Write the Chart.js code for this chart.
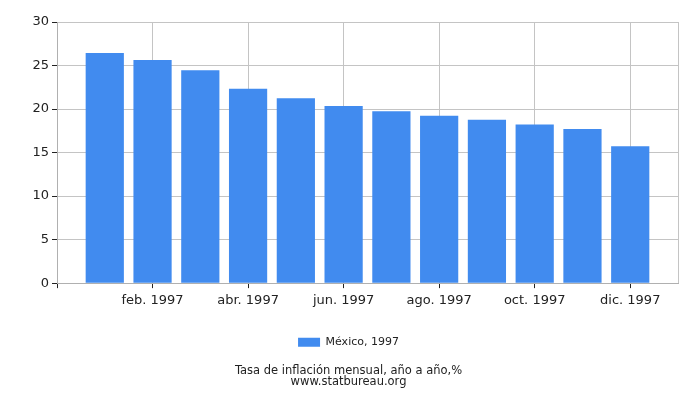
<!DOCTYPE html>
<html>
<head>
<meta charset="utf-8">
<script src="https://cdn.jsdelivr.net/npm/chart.js@4/dist/chart.umd.min.js"></script>
<style>
  html, body { margin: 0; padding: 0; background: #fff; }
  #wrap { width: 700px; height: 400px; }
</style>
</head>
<body>
<div id="wrap"><canvas id="inflChart"></canvas></div>
<script>
const months = ['ene. 1997', 'feb. 1997', 'mar. 1997', 'abr. 1997', 'may. 1997', 'jun. 1997',
                'jul. 1997', 'ago. 1997', 'sep. 1997', 'oct. 1997', 'nov. 1997', 'dic. 1997'];
const inflation = [26.44, 25.64, 24.46, 22.33, 21.24, 20.35, 19.74, 19.22, 18.77, 18.23, 17.71, 15.72];
const shownMonths = ['feb. 1997', 'abr. 1997', 'jun. 1997', 'ago. 1997', 'oct. 1997', 'dic. 1997'];
const yTicks = [0, 5, 10, 15, 20, 25, 30];

// empty slot before january and after december, like the original axis
const labels = [''].concat(months, ['']);
const values = [null].concat(inflation, [null]);

const fontFamily = '"DejaVu Sans", sans-serif';
Chart.defaults.font.family = fontFamily;

function isShown(i) {
    const l = labels[i];
    return i === 0 || shownMonths.includes(l);
}

const ctx = document.getElementById('inflChart').getContext('2d');
let chart = new Chart(ctx, {
    type: 'bar',
    data: {
        labels: labels,
        datasets: [{
            label: 'México, 1997',
            data: values,
            backgroundColor: '#418bef',
            borderWidth: 0,
            barPercentage: 0.8,
            categoryPercentage: 1.0
        }]
    },
    options: {
        responsive: true,
        maintainAspectRatio: false,
        animation: false,
        layout: { padding: { top: 22, right: 22, left: 19, bottom: 0 } },
        plugins: {
            tooltip: { enabled: false },
            legend: {
                position: 'bottom',
                labels: {
                    boxWidth: 22,
                    boxHeight: 9,
                    padding: 23,
                    color: '#222',
                    font: { size: 11 }
                }
            },
            title: {
                display: true,
                position: 'bottom',
                text: 'Tasa de inflación mensual, año a año,%',
                color: '#222',
                font: { size: 11.5, weight: 'normal', lineHeight: 1 },
                padding: { top: 8, bottom: 0 }
            },
            subtitle: {
                display: true,
                position: 'bottom',
                weight: 3000,
                text: 'www.statbureau.org',
                color: '#222',
                font: { size: 11.5, lineHeight: 0.85 },
                padding: { top: 0, bottom: 13 }
            }
        },
        scales: {
            x: {
                offset: false,
                border: { color: '#b0b0b0' },
                grid: {
                    offset: false,
                    color: c => (c.index === labels.length - 1 || isShown(c.index)) ? '#c4c4c4' : 'transparent',
                    tickColor: c => isShown(c.index) ? '#222' : 'transparent',
                    tickLength: 5
                },
                ticks: {
                    autoSkip: false,
                    maxRotation: 0,
                    padding: 5,
                    color: '#222',
                    font: { size: 13 },
                    callback: (v, i) => shownMonths.includes(labels[i]) ? labels[i] : ''
                }
            },
            y: {
                min: 0,
                max: 30,
                border: { color: '#b0b0b0' },
                grid: { color: '#c4c4c4', tickColor: '#222', tickLength: 5 },
                afterBuildTicks: axis => { axis.ticks = yTicks.map(v => ({ value: v })); },
                afterFit: axis => { axis.width = 38; },
                ticks: { color: '#222', font: { size: 13 } }
            }
        }
    }
});
</script>
</body>
</html>
